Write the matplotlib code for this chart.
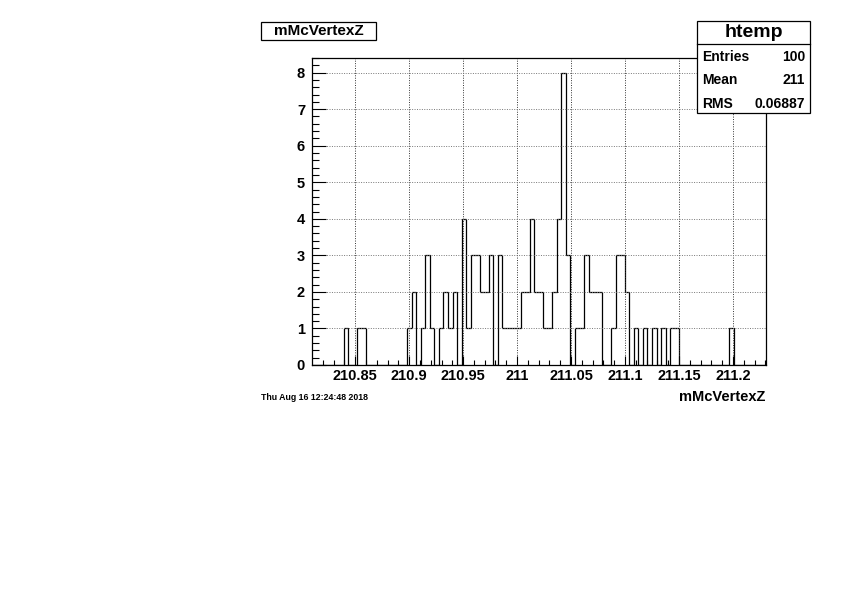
import numpy as np
import matplotlib
matplotlib.use("Agg")
import matplotlib.pyplot as plt
from matplotlib.patches import Rectangle
from matplotlib.lines import Line2D

# ---- data ----
x_min = 210.81
bin_width = 0.0042
n_bins = 100
counts = [0, 0, 0, 0, 0, 0, 0, 1, 0, 0,
          1, 1, 0, 0, 0, 0, 0, 0, 0, 0,
          0, 1, 2, 0, 1, 3, 1, 0, 1, 2,
          1, 2, 0, 4, 1, 3, 3, 2, 2, 3,
          0, 3, 1, 1, 1, 1, 2, 2, 4, 2,
          2, 1, 1, 2, 4, 8, 3, 0, 1, 1,
          3, 2, 2, 2, 0, 0, 1, 3, 3, 2,
          0, 1, 0, 1, 0, 1, 0, 1, 0, 1,
          1, 0, 0, 0, 0, 0, 0, 0, 0, 0,
          0, 0, 1, 0, 0, 0, 0, 0, 0, 0]
x_ticks = [210.85, 210.9, 210.95, 211.0, 211.05, 211.1, 211.15, 211.2]
x_tick_labels = ["210.85", "210.9", "210.95", "211", "211.05", "211.1", "211.15", "211.2"]
y_ticks = [0, 1, 2, 3, 4, 5, 6, 7, 8]
title = "mMcVertexZ"
x_label = "mMcVertexZ"
stats_name = "htemp"
stats_rows = [("Entries", "100"), ("Mean", "211"), ("RMS", "0.06887")]
date_text = "Thu Aug 16 12:24:48 2018"

edges = x_min + bin_width * np.arange(n_bins + 1)

plt.rcParams['font.family'] = ['Liberation Sans', 'DejaVu Sans']
plt.rcParams['font.weight'] = 'bold'

W, H = 842, 595
fig = plt.figure(figsize=(W / 100, H / 100), dpi=100)
fig.patch.set_facecolor('white')

def fx(px):
    return px / W

def fy(py):
    return 1 - py / H

ax = fig.add_axes([fx(312), fy(365), (766 - 312) / W, (365 - 58) / H])
ax.stairs(counts, edges, color='black', linewidth=0.9, baseline=0)
ax.set_xlim(210.81, 211.2306)
ax.set_ylim(0, 8.4)

ax.set_xticks(x_ticks)
ax.set_xticklabels(x_tick_labels, fontsize=10.5, fontweight='bold')
ax.set_xticks(np.arange(210.82, 211.231, 0.01), minor=True)
ax.set_yticks(y_ticks)
ax.set_yticklabels([str(v) for v in y_ticks], fontsize=10.5, fontweight='bold')
ax.set_yticks(np.arange(0, 8.41, 0.2), minor=True)

ax.tick_params(axis='x', which='major', direction='in', length=6.6, width=0.8, pad=3)
ax.tick_params(axis='x', which='minor', direction='in', length=3.3, width=0.8)
ax.tick_params(axis='y', which='major', direction='in', length=9.8, width=0.8, pad=5)
ax.tick_params(axis='y', which='minor', direction='in', length=4.9, width=0.8)
ax.tick_params(top=False, right=False, which='both')

ax.grid(True, which='major', axis='x', linestyle=(0, (1, 1.5)), color='#333333', linewidth=0.7)
ax.grid(True, which='major', axis='y', linestyle=(0, (1, 1.5)), color='#777777', linewidth=0.7)
for s in ax.spines.values():
    s.set_linewidth(0.9)
    s.set_color('black')

# title box
fig.patches.append(Rectangle((fx(261), fy(40)), (376 - 261) / W, (40 - 22) / H,
                             transform=fig.transFigure, facecolor='white',
                             edgecolor='black', linewidth=0.9, zorder=5))
fig.text(fx(318.5), fy(31), title, ha='center', va='center', fontsize=11,
         fontweight='bold', zorder=6)

# stats box
bx0, bx1, by0, by1 = 697, 810, 21, 113
fig.patches.append(Rectangle((fx(bx0), fy(by1)), (bx1 - bx0) / W, (by1 - by0) / H,
                             transform=fig.transFigure, facecolor='white',
                             edgecolor='black', linewidth=0.9, zorder=5))
fig.lines.append(Line2D([fx(bx0), fx(bx1)], [fy(44), fy(44)], transform=fig.transFigure,
                        color='black', linewidth=0.9, zorder=6))
fig.text(fx((bx0 + bx1) / 2), fy(32.5), stats_name, ha='center', va='center',
         fontsize=14, fontweight='bold', zorder=6)
row_y = [57, 80.5, 103.5]
for (k, v), yy in zip(stats_rows, row_y):
    fig.text(fx(702), fy(yy), k, ha='left', va='center', fontsize=10,
             fontweight='bold', zorder=6)
    fig.text(fx(805), fy(yy), v, ha='right', va='center', fontsize=10,
             fontweight='bold', zorder=6)

# x label and date
fig.text(fx(765), fy(397), x_label, ha='right', va='center', fontsize=10.5,
         fontweight='bold')
fig.text(fx(261), fy(397), date_text, ha='left', va='center', fontsize=6.3,
         fontweight='bold')

fig.savefig('out.png', dpi=100, facecolor='white')
